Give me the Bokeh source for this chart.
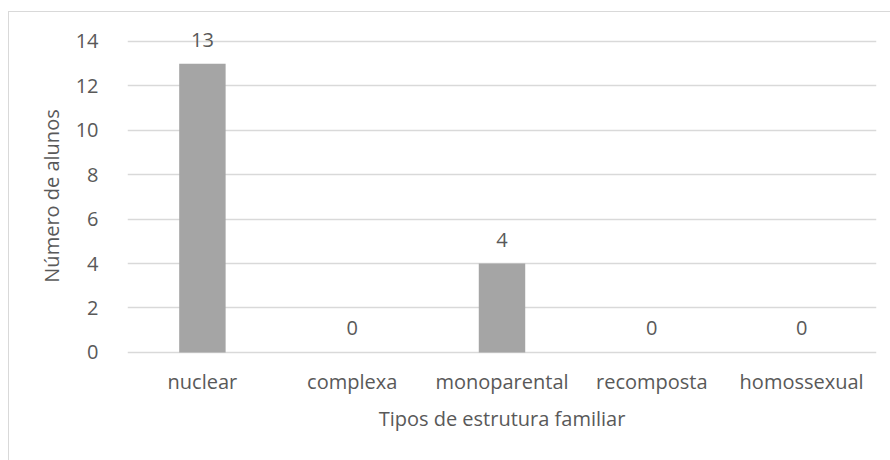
from bokeh.plotting import figure
from bokeh.models import ColumnDataSource, LabelSet, Range1d, FixedTicker
from bokeh.core.properties import value
from bokeh.embed import file_html
from bokeh.resources import INLINE

categories = ["nuclear", "complexa", "monoparental", "recomposta", "homossexual"]
values = [13, 0, 4, 0, 0]
y_ticks = [0, 2, 4, 6, 8, 10, 12, 14]

FONT = "Open Sans"
TXT = "#595959"
GRID = "#d9d9d9"
FS = "20px"

src = ColumnDataSource(dict(cat=categories, val=values, lab=[str(v) for v in values]))

p = figure(x_range=categories, y_range=Range1d(-0.5, 14.585), width=882, height=449,
           output_backend="svg", toolbar_location=None,
           min_border_left=118, min_border_right=15, min_border_top=16, min_border_bottom=98)
p.margin = (11, 0, 0, 8)
p.styles = {"border-top": "1px solid #d9d9d9", "border-left": "1px solid #d9d9d9"}
p.outline_line_color = None
p.background_fill_color = "white"
p.border_fill_color = "white"

p.vbar(x="cat", top="val", bottom=0, width=0.31, source=src, fill_color="#a5a5a5", line_color=None)

labels = LabelSet(x="cat", y="val", text="lab", source=src, y_offset=17,
                  text_align="center", text_baseline="alphabetic",
                  text_font=value(FONT), text_font_size=value(FS), text_color=TXT)
p.add_layout(labels)

p.xgrid.grid_line_color = None
p.ygrid.grid_line_color = GRID
p.ygrid.grid_line_width = 1.3
p.yaxis.ticker = FixedTicker(ticks=y_ticks)

p.yaxis.axis_line_color = None
p.yaxis.major_tick_line_color = None
p.yaxis.minor_tick_line_color = None
p.yaxis.major_label_standoff = 23
p.yaxis.axis_label = "Número de alunos"
p.yaxis.axis_label_standoff = 8

p.xaxis.axis_line_color = None
p.xaxis.major_tick_line_color = None
p.xaxis.major_label_standoff = -2
p.xaxis.axis_label = "Tipos de estrutura familiar"
p.xaxis.axis_label_standoff = 7

for ax in (p.xaxis, p.yaxis):
    ax.major_label_text_font = FONT
    ax.major_label_text_font_size = FS
    ax.major_label_text_color = TXT
    ax.axis_label_text_font = FONT
    ax.axis_label_text_font_size = FS
    ax.axis_label_text_color = TXT
    ax.axis_label_text_font_style = "normal"

open("out.html", "w").write(file_html(p, INLINE))
